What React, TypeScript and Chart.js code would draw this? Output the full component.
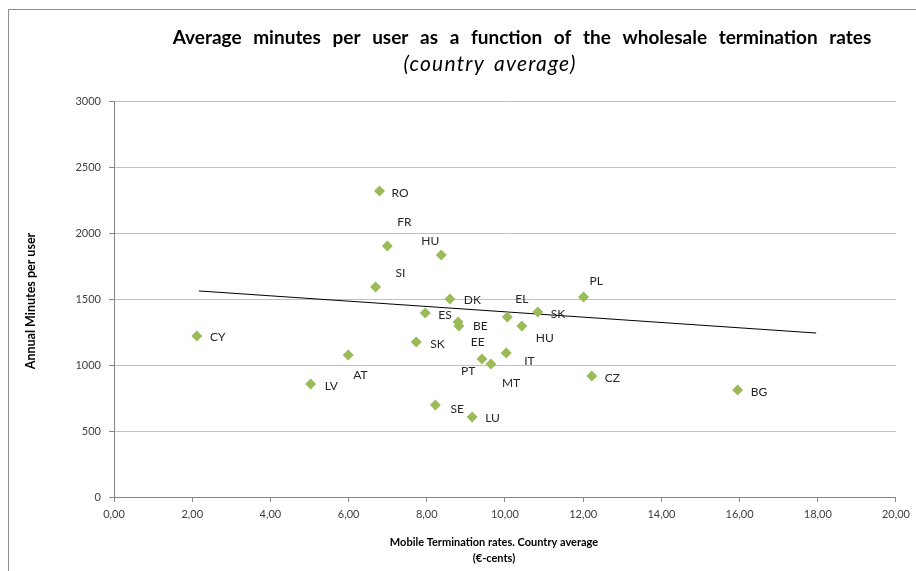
import React, { useEffect, useRef } from 'react';
import { Chart, registerables } from 'chart.js';

Chart.register(...registerables);

const countries = ['RO', 'FR', 'HU', 'SI', 'DK', 'ES', 'BE', 'EE', 'EL', 'SK', 'HU', 'PL', 'CY', 'SK', 'AT', 'PT', 'MT', 'IT', 'LV', 'CZ', 'BG', 'SE', 'LU'];
const rates = [6.79, 6.99, 8.37, 6.69, 8.59, 7.96, 8.8, 8.82, 10.06, 10.84, 10.43, 12.01, 2.12, 7.73, 5.99, 9.41, 9.64, 10.03, 5.03, 12.22, 15.95, 8.22, 9.16];
const minutes = [2318, 1902, 1833, 1591, 1500, 1394, 1326, 1295, 1364, 1402, 1295, 1515, 1220, 1174, 1076, 1045, 1008, 1091, 856, 917, 811, 697, 606];
// label placement relative to each point (px)
const labelDx = [12, 10, -20, 20, 14, 13, 15, 12, 8, 13, 14, 6, 13, 14, 5, -21, 11, 18, 14, 13, 13, 15, 13];
const labelDy = [2, -24, -14, -14, 1, 2, 4, 16, -18, 2, 12, -16, 1, 2, 20, 12, 19, 8, 2, 2, 2, 4, 1];

const trendX = [2.17, 17.96];
const trendY = [1561, 1242];

const xMin = 0, xMax = 20, xStep = 2;
const yMin = 0, yMax = 3000, yStep = 500;

const titleText = 'Average minutes per user as a function of the wholesale termination rates';
const subtitleText = '(country average)';
const yTitle = 'Annual Minutes per user';
const xTitle1 = 'Mobile Termination rates. Country average';
const xTitle2 = '(€-cents)';

const FONT = 'Lato, "Open Sans", sans-serif';
const PLOT = { left: 114, right: 898, top: 101, bottom: 497 };

export default function App() {
  const ref = useRef<HTMLCanvasElement>(null);
  useEffect(() => {
    const canvas = ref.current!;
    const decor = {
      id: 'decor',
      beforeDraw(chart: any) {
        const ctx = chart.ctx;
        ctx.save();
        ctx.fillStyle = '#ffffff';
        ctx.fillRect(0, 0, chart.width, chart.height);
        ctx.strokeStyle = '#8c8c8c';
        ctx.lineWidth = 1;
        ctx.beginPath();
        ctx.moveTo(8.5, 571);
        ctx.lineTo(8.5, 9.5);
        ctx.lineTo(916, 9.5);
        ctx.stroke();
        ctx.restore();
      },
      afterDraw(chart: any) {
        const ctx = chart.ctx;
        ctx.save();
        ctx.fillStyle = '#000000';
        ctx.textBaseline = 'middle';
        ctx.textAlign = 'center';
        ctx.font = `bold 19px ${FONT}`;
        (ctx as any).wordSpacing = '7px';
        ctx.fillText(titleText, 522, 38);
        (ctx as any).wordSpacing = '3px';
        (ctx as any).letterSpacing = '1.2px';
        ctx.font = `italic 21px ${FONT}`;
        ctx.fillText(subtitleText, 490, 64);
        (ctx as any).wordSpacing = '0px';
        (ctx as any).letterSpacing = '0px';
        ctx.font = `bold 11px ${FONT}`;
        ctx.fillText(xTitle1, 494, 542);
        ctx.fillText(xTitle2, 494, 558);
        ctx.font = `bold 12.5px ${FONT}`;
        ctx.translate(31, 301);
        ctx.rotate(-Math.PI / 2);
        ctx.fillText(yTitle, 0, 0);
        ctx.restore();
      },
      afterDatasetsDraw(chart: any) {
        const ctx = chart.ctx;
        const meta = chart.getDatasetMeta(0);
        ctx.save();
        ctx.fillStyle = '#262626';
        ctx.font = `12px ${FONT}`;
        ctx.textAlign = 'left';
        ctx.textBaseline = 'middle';
        meta.data.forEach((el: any, i: number) => {
          ctx.fillText(countries[i], el.x + labelDx[i], el.y + labelDy[i]);
        });
        ctx.restore();
      },
    };

    const chart = new Chart(canvas, {
      type: 'scatter',
      data: {
        datasets: [
          {
            label: 'Countries',
            data: rates.map((r, i) => ({ x: r, y: minutes[i] })),
            backgroundColor: '#9bbb59',
            borderColor: '#9bbb59',
            pointStyle: 'rectRot',
            pointRadius: 5.5,
            borderWidth: 0,
            order: 1,
          },
          {
            type: 'line',
            label: 'Trend',
            data: trendX.map((x, i) => ({ x, y: trendY[i] })),
            borderColor: '#000000',
            borderWidth: 1,
            pointRadius: 0,
            showLine: true,
            fill: false,
            order: 2,
          } as any,
        ],
      },
      plugins: [decor],
      options: {
        responsive: false,
        animation: false,
        devicePixelRatio: 1,
        layout: { padding: { left: 0, top: PLOT.top, right: 916 - PLOT.right, bottom: 0 } },
        plugins: { legend: { display: false }, tooltip: { enabled: false }, title: { display: false } },
        scales: {
          x: {
            type: 'linear',
            min: xMin,
            max: xMax,
            ticks: {
              stepSize: xStep,
              color: '#404040',
              font: { family: FONT, size: 11 },
              padding: 6,
              callback: (v: any) => Number(v).toFixed(2).replace('.', ','),
            },
            grid: { drawOnChartArea: false, drawTicks: true, tickLength: 5, color: '#868686' },
            border: { color: '#868686' },
            afterFit: (s: any) => { s.height = 571 - PLOT.bottom; },
          },
          y: {
            type: 'linear',
            min: yMin,
            max: yMax,
            ticks: {
              stepSize: yStep,
              color: '#404040',
              font: { family: FONT, size: 11 },
              padding: 8,
              callback: (v: any) => String(v),
            },
            grid: { color: '#bfbfbf', tickColor: '#868686', tickLength: 5 },
            border: { color: '#868686' },
            afterFit: (s: any) => { s.width = PLOT.left; },
          },
        },
      },
    });
    return () => chart.destroy();
  }, []);
  return (
    <div style={{ position: 'absolute', left: 0, top: 0, width: 916, height: 571 }}>
      <canvas ref={ref} width={916} height={571} style={{ width: 916, height: 571, display: 'block' }} />
    </div>
  );
}
